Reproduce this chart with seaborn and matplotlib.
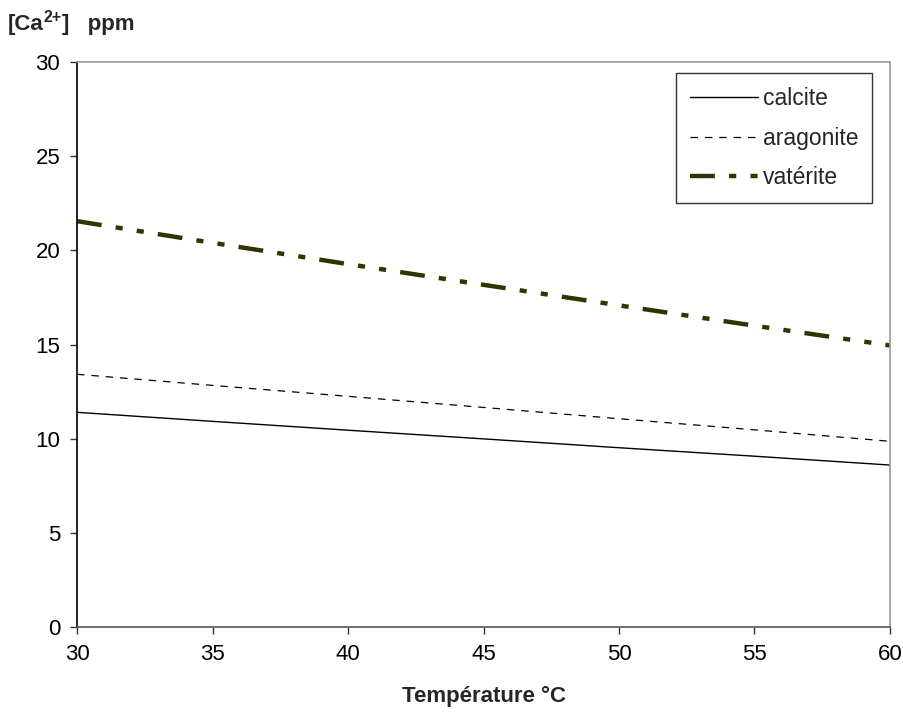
import numpy as np
import pandas as pd
import seaborn as sns
import matplotlib.pyplot as plt

# Données
temperature = [30, 35, 40, 45, 50, 55, 60]
calcite = [11.40, 10.92, 10.45, 9.99, 9.52, 9.07, 8.60]
aragonite = [13.42, 12.83, 12.25, 11.66, 11.06, 10.47, 9.86]
vaterite = [21.55, 20.40, 19.27, 18.17, 17.08, 16.00, 14.95]

df = pd.DataFrame({
    "T": temperature * 3,
    "ca": calcite + aragonite + vaterite,
    "phase": ["calcite"] * 7 + ["aragonite"] * 7 + ["vatérite"] * 7,
})

sns.set_style("white")
plt.rcParams['font.family'] = ['Liberation Sans', 'DejaVu Sans']

fig = plt.figure(figsize=(9.04, 7.13), dpi=100)
ax = fig.add_axes([0.0852, 0.1206, 0.8993, 0.7924])

styles = {
    "calcite": dict(color="black", lw=1.0, ls="-"),
    "aragonite": dict(color="black", lw=0.9, ls=(0, (6, 5.5))),
    "vatérite": dict(color="#333300", lw=3.2, ls=(0, (5.6, 3.2, 1.6, 3.2, 1.6, 3.2))),
}
for name, st in styles.items():
    sns.lineplot(data=df[df.phase == name], x="T", y="ca", ax=ax,
                 label=name, color=st["color"], linewidth=st["lw"],
                 linestyle=st["ls"])

ax.set_xlim(30, 60)
ax.set_ylim(0, 30)
ax.set_xticks(range(30, 61, 5))
ax.set_yticks(range(0, 31, 5))
ax.tick_params(axis="both", labelsize=16, direction="out", length=5,
               width=1, colors="#333333", labelcolor="black", pad=7,
               bottom=True, left=True)
ax.spines["left"].set_color("black")
ax.spines["bottom"].set_color("#555555")
ax.spines["top"].set_color("#999999")
ax.spines["right"].set_color("#999999")
for s in ax.spines.values():
    s.set_linewidth(1.2)

ax.set_xlabel("Température °C", fontsize=16, fontweight="bold", labelpad=15)
ax.set_ylabel("")

# titre de l'axe y avec exposant
t1 = fig.text(0.009, 0.958, "[Ca", fontsize=16, fontweight="bold",
              ha="left", va="baseline")
t2 = ax.annotate("2+", xy=(1, 0.45), xycoords=t1, fontsize=11.5,
                 fontweight="bold", ha="left", va="bottom",
                 annotation_clip=False)
ax.annotate("]   ppm", xy=(1, 0), xycoords=t1, xytext=(t2.get_fontsize() * 1.15, 0),
            textcoords="offset points", fontsize=16, fontweight="bold",
            ha="left", va="bottom", annotation_clip=False)

leg = ax.legend(loc="upper right", bbox_to_anchor=(0.978, 0.98),
                fontsize=16.5, frameon=True, fancybox=False,
                handlelength=3.0, handletextpad=0.2, borderpad=0.6,
                labelspacing=0.72, borderaxespad=0)
leg.get_frame().set_edgecolor("black")
leg.get_frame().set_linewidth(1.0)

fig.savefig("out.png", dpi=100)
